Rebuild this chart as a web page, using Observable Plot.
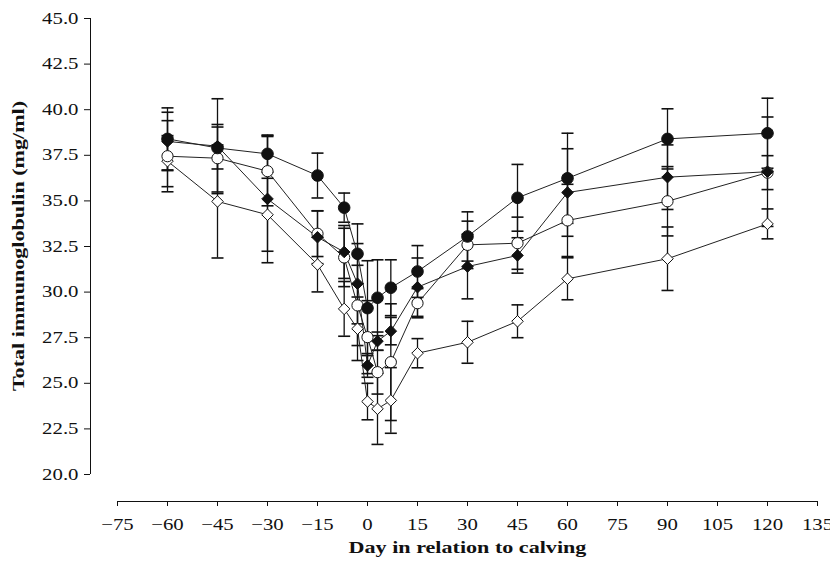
<!DOCTYPE html>
<html><head><meta charset="utf-8">
<script src="https://cdn.jsdelivr.net/npm/d3@7"></script>
<script src="https://cdn.jsdelivr.net/npm/@observablehq/plot@0.6"></script>
<style>
html,body{margin:0;padding:0;background:#fff;}
#chart svg{display:block;}
</style></head><body><div id="chart"></div>
<script>
// Day relative to calving
const days = [-60,-45,-30,-15,-7,-3,0,3,7,15,30,45,60,90,120];
// Series (means, mg/ml) and standard errors
const filledCircle   = [38.40,37.90,37.58,36.39,34.63,32.10,29.12,29.69,30.24,31.13,33.05,35.17,36.24,38.40,38.71];
const filledCircleSE = [1.70,1.15,1.00,1.23,0.80,1.64,2.60,2.08,1.53,1.42,1.35,1.83,2.47,1.65,1.92];
const filledDiamond   = [38.26,38.00,35.11,33.01,32.20,30.46,25.98,27.31,27.86,30.27,31.40,32.01,35.46,36.30,36.60];
const filledDiamondSE = [1.60,2.60,3.50,1.45,1.45,2.20,0.65,0.50,0.75,1.60,1.77,0.97,2.40,1.77,3.00];
const openCircle   = [37.45,37.34,36.63,33.20,31.90,29.27,27.53,25.61,26.16,29.39,32.59,32.68,33.93,34.98,36.55];
const openCircleSE = [1.95,1.85,1.90,1.25,1.60,2.20,2.00,1.20,3.20,0.80,1.30,1.43,1.98,1.90,0.93];
const openDiamond   = [37.18,34.97,34.24,31.51,29.08,27.99,24.00,23.60,24.06,26.65,27.25,28.40,30.73,31.83,33.74];
const openDiamondSE = [1.40,3.10,2.00,1.50,1.50,1.74,1.00,1.95,1.80,0.80,1.15,0.90,1.15,1.74,0.82];

const xTicks = [-75,-60,-45,-30,-15,0,15,30,45,60,75,90,105,120,135];
const yTicks = [20,22.5,25,27.5,30,32.5,35,37.5,40,42.5,45];
const xLabel = "Day in relation to calving";
const yLabel = "Total immunoglobulin (mg/ml)";

const seriesDefs = [
  {name: "openDiamond",   values: openDiamond,   se: openDiamondSE,   symbol: "diamond2", fill: "#fff", r: 5.2},
  {name: "openCircle",    values: openCircle,    se: openCircleSE,    symbol: "circle",   fill: "#fff", r: 5.6},
  {name: "filledDiamond", values: filledDiamond, se: filledDiamondSE, symbol: "diamond2", fill: "#111", r: 5.2},
  {name: "filledCircle",  values: filledCircle,  se: filledCircleSE,  symbol: "circle",   fill: "#111", r: 5.8}
];

const rows = seriesDefs.flatMap(s => days.map((d, i) => ({
  series: s.name, day: d, value: s.values[i], lo: s.values[i] - s.se[i], hi: s.values[i] + s.se[i]
})));

const capSymbol = {draw(ctx) { ctx.moveTo(-6, 0); ctx.lineTo(6, 0); }};

const ink = "#111";
const chart = Plot.plot({
  width: 830, height: 562,
  marginLeft: 90, marginRight: 13, marginTop: 18, marginBottom: 61,
  x: {domain: [-75, 135], range: [117, 817]},
  y: {domain: [20, 45], range: [474, 18]},
  style: {fontFamily: "'Liberation Serif', 'Times New Roman', serif", fontSize: "16px", color: ink, background: "#fff"},
  marks: [
    Plot.axisX({ticks: xTicks, tickSize: 5, tickPadding: 12, label: null, stroke: ink, fill: ink}),
    Plot.axisY({ticks: yTicks, tickFormat: d3.format(".1f"), tickSize: 6, tickPadding: 6, label: null, stroke: ink, fill: ink}),
    Plot.ruleX([-75], {y1: 20, y2: 45, dx: -27, stroke: ink}),
    Plot.ruleY([20], {x1: -75, x2: 135, dy: 27, stroke: ink}),
    Plot.ruleX(rows, {x: "day", y1: "lo", y2: "hi", stroke: ink, strokeWidth: 1.3}),
    Plot.dot(rows, {x: "day", y: "lo", symbol: capSymbol, r: 1, fill: "none", stroke: ink, strokeWidth: 1.6}),
    Plot.dot(rows, {x: "day", y: "hi", symbol: capSymbol, r: 1, fill: "none", stroke: ink, strokeWidth: 1.6}),
    Plot.line(rows, {x: "day", y: "value", z: "series", stroke: "#222", strokeWidth: 1}),
    ...seriesDefs.map(s => Plot.dot(rows.filter(r => r.series === s.name), {
      x: "day", y: "value", symbol: s.symbol, r: s.r, fill: s.fill, stroke: ink, strokeWidth: 1
    })),
    Plot.text([xLabel], {frameAnchor: "bottom", textAnchor: "middle", dx: 13.5, dy: 51, text: d => d, fontWeight: "bold", fontSize: 17, fill: ink}),
    Plot.text([yLabel], {frameAnchor: "left", textAnchor: "middle", dx: -72, dy: -14, rotate: -90, text: d => d, fontWeight: "bold", fontSize: 17, fill: ink})
  ]
});
document.getElementById("chart").appendChild(chart);
// widen glyphs to match the reference's broad serif lettering
const STRETCH = 1.3;
chart.querySelectorAll("text").forEach(t => {
  const L = t.getComputedTextLength();
  if (L > 0) { t.setAttribute("textLength", (L * STRETCH).toFixed(1)); t.setAttribute("lengthAdjust", "spacingAndGlyphs"); }
});
</script></body></html>
